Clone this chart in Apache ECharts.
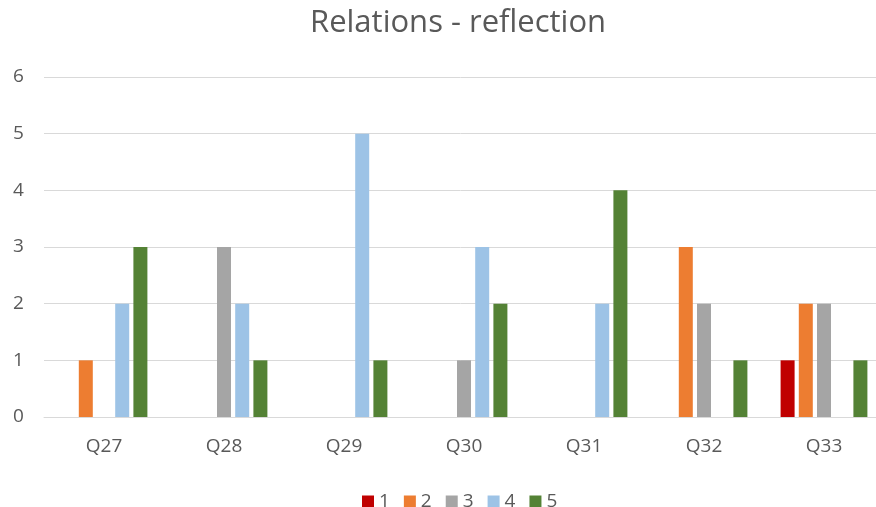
<!DOCTYPE html>
<html>
<head>
<meta charset="utf-8">
<script src="https://cdn.jsdelivr.net/npm/echarts@6/dist/echarts.min.js"></script>
<style>html,body{margin:0;padding:0;background:#fff;}#c{width:876px;height:507px;}</style>
</head>
<body>
<div id="c"></div>
<script>
const categories = ['Q27','Q28','Q29','Q30','Q31','Q32','Q33'];
const seriesNames = ['1','2','3','4','5'];
const s1 = [0,0,0,0,0,0,1];
const s2 = [1,0,0,0,0,3,2];
const s3 = [0,3,0,1,0,2,2];
const s4 = [2,2,5,3,2,0,0];
const s5 = [3,1,1,2,4,1,1];
const colors = ['#C00000','#ED7D31','#A5A5A5','#9DC3E6','#548235'];
const values = [s1,s2,s3,s4,s5];
const font = '"Open Sans", sans-serif';
const chart = echarts.init(document.getElementById('c'));
chart.setOption({
  animation:false,
  title:{text:'Relations - reflection',left:305,top:3,textStyle:{fontFamily:font,fontSize:31,fontWeight:'normal',color:'#595959'}},
  legend:{data:seriesNames,top:487,left:357,itemWidth:12,itemHeight:12,itemGap:14,icon:'rect',textStyle:{fontFamily:font,fontSize:19,color:'#595959'}},
  grid:{left:44,width:840,top:77,height:340,outerBoundsMode:'none'},
  xAxis:{type:'category',data:categories,axisTick:{show:false},axisLine:{lineStyle:{color:'#D9D9D9'}},axisLabel:{fontFamily:font,fontSize:19,color:'#595959',margin:20}},
  yAxis:{type:'value',min:0,max:6,interval:1,axisLabel:{fontFamily:font,fontSize:19,color:'#595959',margin:31,align:'left'},splitLine:{lineStyle:{color:'#D9D9D9'}}},
  series:seriesNames.map((n,i)=>({name:n,type:'bar',data:values[i],barWidth:14,barGap:'30%',itemStyle:{color:colors[i]}}))
});
</script>
</body>
</html>
